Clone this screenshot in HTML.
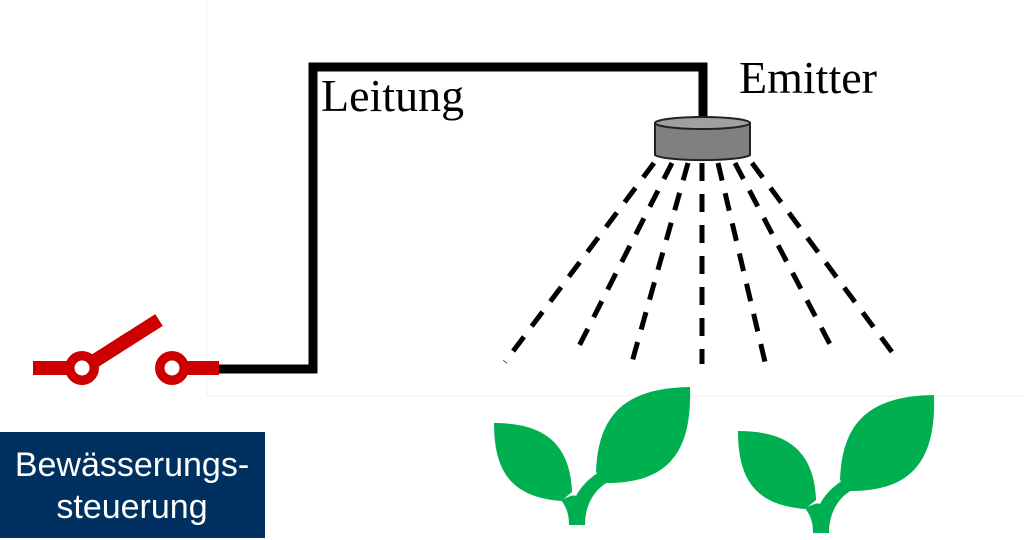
<!DOCTYPE html>
<html><head><meta charset="utf-8"><style>
html,body{margin:0;padding:0;background:#fff;width:1024px;height:540px;overflow:hidden}
svg{display:block}
</style></head><body>
<svg width="1024" height="540" viewBox="0 0 1024 540" xmlns="http://www.w3.org/2000/svg">
<line x1="207" y1="0" x2="207" y2="396" stroke="#f0f0f0" stroke-width="1"/>
<line x1="207" y1="396" x2="1024" y2="396" stroke="#f0f0f0" stroke-width="1"/>
<polyline points="218,369 313,369 313,67 703,67 703,120" fill="none" stroke="#000" stroke-width="9" stroke-linejoin="miter"/>
<text x="321" y="111" font-family="Liberation Serif, serif" font-size="46">Leitung</text>
<text x="739" y="93" font-family="Liberation Serif, serif" font-size="46">Emitter</text>
<path d="M655,123 L655,155 A48,6 0 0 0 750,155 L750,123 Z" fill="#808080" stroke="#222" stroke-width="2"/>
<ellipse cx="702.5" cy="123" rx="47.5" ry="6" fill="#a0a0a0" stroke="#222" stroke-width="2"/>
<g stroke="#000" stroke-width="5" stroke-dasharray="18,13" fill="none">
<line x1="654" y1="163" x2="505" y2="362"/>
<line x1="672" y1="163" x2="577" y2="350"/>
<line x1="688" y1="163" x2="632" y2="362"/>
<line x1="702" y1="163" x2="702" y2="364"/>
<line x1="718" y1="163" x2="765" y2="362"/>
<line x1="735" y1="163" x2="833" y2="350"/>
<line x1="752" y1="163" x2="892" y2="352"/>
</g>
<g fill="#cc0000">
<rect x="33" y="361" width="40" height="14"/>
<rect x="180" y="361" width="39" height="14"/>
<line x1="93" y1="362" x2="159" y2="320" stroke="#cc0000" stroke-width="14"/>
<circle cx="82" cy="368" r="17"/>
<circle cx="172" cy="368" r="17"/>
</g>
<circle cx="82" cy="368" r="7.5" fill="#fff"/>
<circle cx="172" cy="368" r="7.5" fill="#fff"/>
<rect x="0" y="432" width="265" height="106" fill="#003060"/>
<text x="132" y="476" text-anchor="middle" font-family="Liberation Sans, sans-serif" font-size="34" fill="#fff">Bewässerungs-</text>
<text x="132" y="518" text-anchor="middle" font-family="Liberation Sans, sans-serif" font-size="34" fill="#fff">steuerung</text>
<defs>
<g id="pl">
<path d="M494,423 C540,423 570,440 572,492 L561,501 C510,497 494,470 494,423 Z"/>
<path d="M596,472 C598,410 630,388 690,387 C692,450 670,483 607,483 Z"/>
<path d="M569,525 L585,525 C585,505 594,490 608,482 L599,472 C588,479 580,488 576,496 C573,494 566,498 561,500 C567,508 569,515 569,525 Z"/>
</g>
</defs>
<g fill="#00b050">
<use href="#pl"/>
<use href="#pl" transform="translate(244,8)"/>
</g>
</svg>
</body></html>
